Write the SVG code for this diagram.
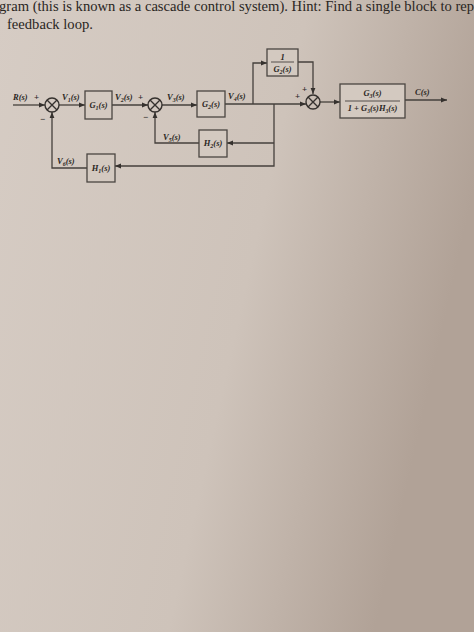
<svg xmlns="http://www.w3.org/2000/svg" width="474" height="632" viewBox="0 0 474 632">
<defs>
<linearGradient id="bg" x1="0" y1="0" x2="1" y2="0.3">
<stop offset="0" stop-color="#d6ccc4"/>
<stop offset="0.6" stop-color="#cec3ba"/>
<stop offset="1" stop-color="#b1a297"/>
</linearGradient>
<marker id="ah" viewBox="0 0 10 10" refX="10" refY="5" markerWidth="6" markerHeight="6" orient="auto" markerUnits="userSpaceOnUse">
<path d="M0,1 L10,5 L0,9 z" fill="#35312e"/>
</marker>
<style>
.ln{fill:none;stroke:#45403c;stroke-width:1.3}
.bx{fill:#d3c9c0;stroke:#4a4541;stroke-width:1.3}
.sj{fill:none;stroke:#35312e;stroke-width:1.4}
.lb{font-family:"Liberation Serif",serif;font-size:8.5px;font-weight:bold;font-style:italic;fill:#2a2623}
.sg{font-family:"Liberation Serif",serif;font-size:9px;font-weight:bold;fill:#2a2623}
.tx{font-family:"Liberation Serif",serif;font-size:14.6px;fill:#2a2623}
</style>
</defs>
<rect width="474" height="632" fill="url(#bg)"/>
<text class="tx" x="-1" y="11">gram (this is known as a cascade control system). Hint: Find a single block to repl</text>
<text class="tx" x="7" y="29">feedback loop.</text>

<g id="connectors">
<path class="ln" d="M13,105 H45" marker-end="url(#ah)"/>
<path class="ln" d="M59,105 H85" marker-end="url(#ah)"/>
<path class="ln" d="M112,105 H148" marker-end="url(#ah)"/>
<path class="ln" d="M162,105 H197" marker-end="url(#ah)"/>
<path class="ln" d="M225,104 H306" marker-end="url(#ah)"/>
<path class="ln" d="M253,104 V63 H267" marker-end="url(#ah)"/>
<path class="ln" d="M298,62 H313 V94" marker-end="url(#ah)"/>
<path class="ln" d="M320,102 H340" marker-end="url(#ah)"/>
<path class="ln" d="M405,100 H447" marker-end="url(#ah)"/>
<path class="ln" d="M274,104 V166 H115" marker-end="url(#ah)"/>
<path class="ln" d="M274,143 H227" marker-end="url(#ah)"/>
<path class="ln" d="M199,143 H155 V112" marker-end="url(#ah)"/>
<path class="ln" d="M87,168 H52 V112" marker-end="url(#ah)"/>
</g>

<g id="sum1">
<circle class="sj" cx="52" cy="105" r="7"/>
<path class="sj" d="M47,100 L57,110 M57,100 L47,110"/>
<text class="sg" x="34" y="100">+</text>
<text class="sg" x="40" y="122">−</text>
</g>
<g id="sum2">
<circle class="sj" cx="155" cy="105" r="7"/>
<path class="sj" d="M150,100 L160,110 M160,100 L150,110"/>
<text class="sg" x="138" y="100">+</text>
<text class="sg" x="143" y="120">−</text>
</g>
<g id="sum3">
<circle class="sj" cx="313" cy="102" r="7"/>
<path class="sj" d="M308,97 L318,107 M318,97 L308,107"/>
<text class="sg" x="295" y="99">+</text>
<text class="sg" x="302" y="92">+</text>
</g>

<g id="G1">
<rect class="bx" x="85" y="91" width="27" height="28"/>
<text class="lb" x="98.5" y="108" text-anchor="middle">G<tspan font-size="6" dy="1.5">1</tspan><tspan dy="-1.5">(s)</tspan></text>
</g>
<g id="G2">
<rect class="bx" x="197" y="91" width="28" height="26"/>
<text class="lb" x="211" y="107" text-anchor="middle">G<tspan font-size="6" dy="1.5">2</tspan><tspan dy="-1.5">(s)</tspan></text>
</g>
<g id="invG2">
<rect class="bx" x="267" y="49" width="31" height="27"/>
<text class="lb" x="282.5" y="60" text-anchor="middle">1</text>
<line x1="271" y1="62" x2="294" y2="62" stroke="#35312e" stroke-width="0.8"/>
<text class="lb" x="282.5" y="72" text-anchor="middle">G<tspan font-size="6" dy="1.5">2</tspan><tspan dy="-1.5">(s)</tspan></text>
</g>
<g id="H2">
<rect class="bx" x="199" y="130" width="28" height="27"/>
<text class="lb" x="213" y="146" text-anchor="middle">H<tspan font-size="6" dy="1.5">2</tspan><tspan dy="-1.5">(s)</tspan></text>
</g>
<g id="H1">
<rect class="bx" x="87" y="154" width="28" height="28"/>
<text class="lb" x="101" y="171" text-anchor="middle">H<tspan font-size="6" dy="1.5">1</tspan><tspan dy="-1.5">(s)</tspan></text>
</g>
<g id="G3">
<rect class="bx" x="340" y="84" width="65" height="34"/>
<text class="lb" x="372.5" y="96" text-anchor="middle">G<tspan font-size="6" dy="1.5">3</tspan><tspan dy="-1.5">(s)</tspan></text>
<line x1="345" y1="101" x2="400" y2="101" stroke="#35312e" stroke-width="0.8"/>
<text class="lb" x="372.5" y="111" text-anchor="middle" font-size="7.5">1 + G<tspan font-size="5.5" dy="1.5">3</tspan><tspan dy="-1.5">(s)H</tspan><tspan font-size="5.5" dy="1.5">3</tspan><tspan dy="-1.5">(s)</tspan></text>
</g>

<g id="labels">
<text class="lb" x="13" y="100">R(s)</text>
<text class="lb" x="62" y="100">V<tspan font-size="6" dy="1.5">1</tspan><tspan dy="-1.5">(s)</tspan></text>
<text class="lb" x="115" y="100">V<tspan font-size="6" dy="1.5">2</tspan><tspan dy="-1.5">(s)</tspan></text>
<text class="lb" x="167" y="100">V<tspan font-size="6" dy="1.5">3</tspan><tspan dy="-1.5">(s)</tspan></text>
<text class="lb" x="228" y="99">V<tspan font-size="6" dy="1.5">4</tspan><tspan dy="-1.5">(s)</tspan></text>
<text class="lb" x="163" y="140">V<tspan font-size="6" dy="1.5">5</tspan><tspan dy="-1.5">(s)</tspan></text>
<text class="lb" x="57" y="164">V<tspan font-size="6" dy="1.5">6</tspan><tspan dy="-1.5">(s)</tspan></text>
<text class="lb" x="415" y="95">C(s)</text>
</g>
</svg>
